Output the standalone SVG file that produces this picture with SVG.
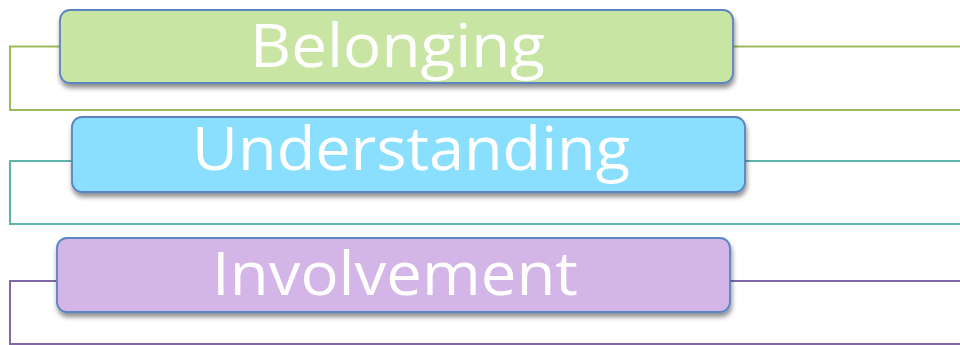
<svg xmlns="http://www.w3.org/2000/svg" width="960" height="345" viewBox="0 0 960 345">
<defs>
<filter id="sh" x="-5%" y="-20%" width="110%" height="160%">
<feGaussianBlur in="SourceAlpha" stdDeviation="2.5"/>
<feOffset dx="1" dy="4" result="b"/>
<feComponentTransfer><feFuncA type="linear" slope="0.45"/></feComponentTransfer>
<feMerge><feMergeNode/><feMergeNode in="SourceGraphic"/></feMerge>
</filter>
</defs>
<style>
.box{stroke:#5A84C2;stroke-width:1.8;filter:url(#sh)}
.lbl{font-family:"Open Sans","Liberation Sans",sans-serif;font-size:61px;fill:#ffffff;text-anchor:middle}
.c{fill:none;stroke-width:2}
</style>
<rect width="960" height="345" fill="#ffffff"/>
<g id="connectors">
<path class="c" stroke="#9BBB59" d="M60,46.5 H10 V110 H960 M733,46.5 H960"/>
<path class="c" stroke="#5FB3AA" d="M72,161 H10 V224 H960 M745,161 H960"/>
<path class="c" stroke="#8368A8" d="M57,281 H10 V344 H960 M730,281 H960"/>
</g>
<g id="belonging">
<rect class="box" x="60" y="10" width="673" height="73" rx="10" fill="#C9E5A4"/>
<text class="lbl" x="397.5" y="67" textLength="295" lengthAdjust="spacingAndGlyphs">Belonging</text>
</g>
<g id="understanding">
<rect class="box" x="72" y="117" width="673" height="75" rx="10" fill="#8ADFFF"/>
<text class="lbl" x="411" y="170" textLength="438" lengthAdjust="spacingAndGlyphs">Understanding</text>
</g>
<g id="involvement">
<rect class="box" x="57" y="238" width="673" height="74" rx="10" fill="#D3B5E7"/>
<text class="lbl" x="395" y="295" textLength="366" lengthAdjust="spacingAndGlyphs">Involvement</text>
</g>
</svg>
